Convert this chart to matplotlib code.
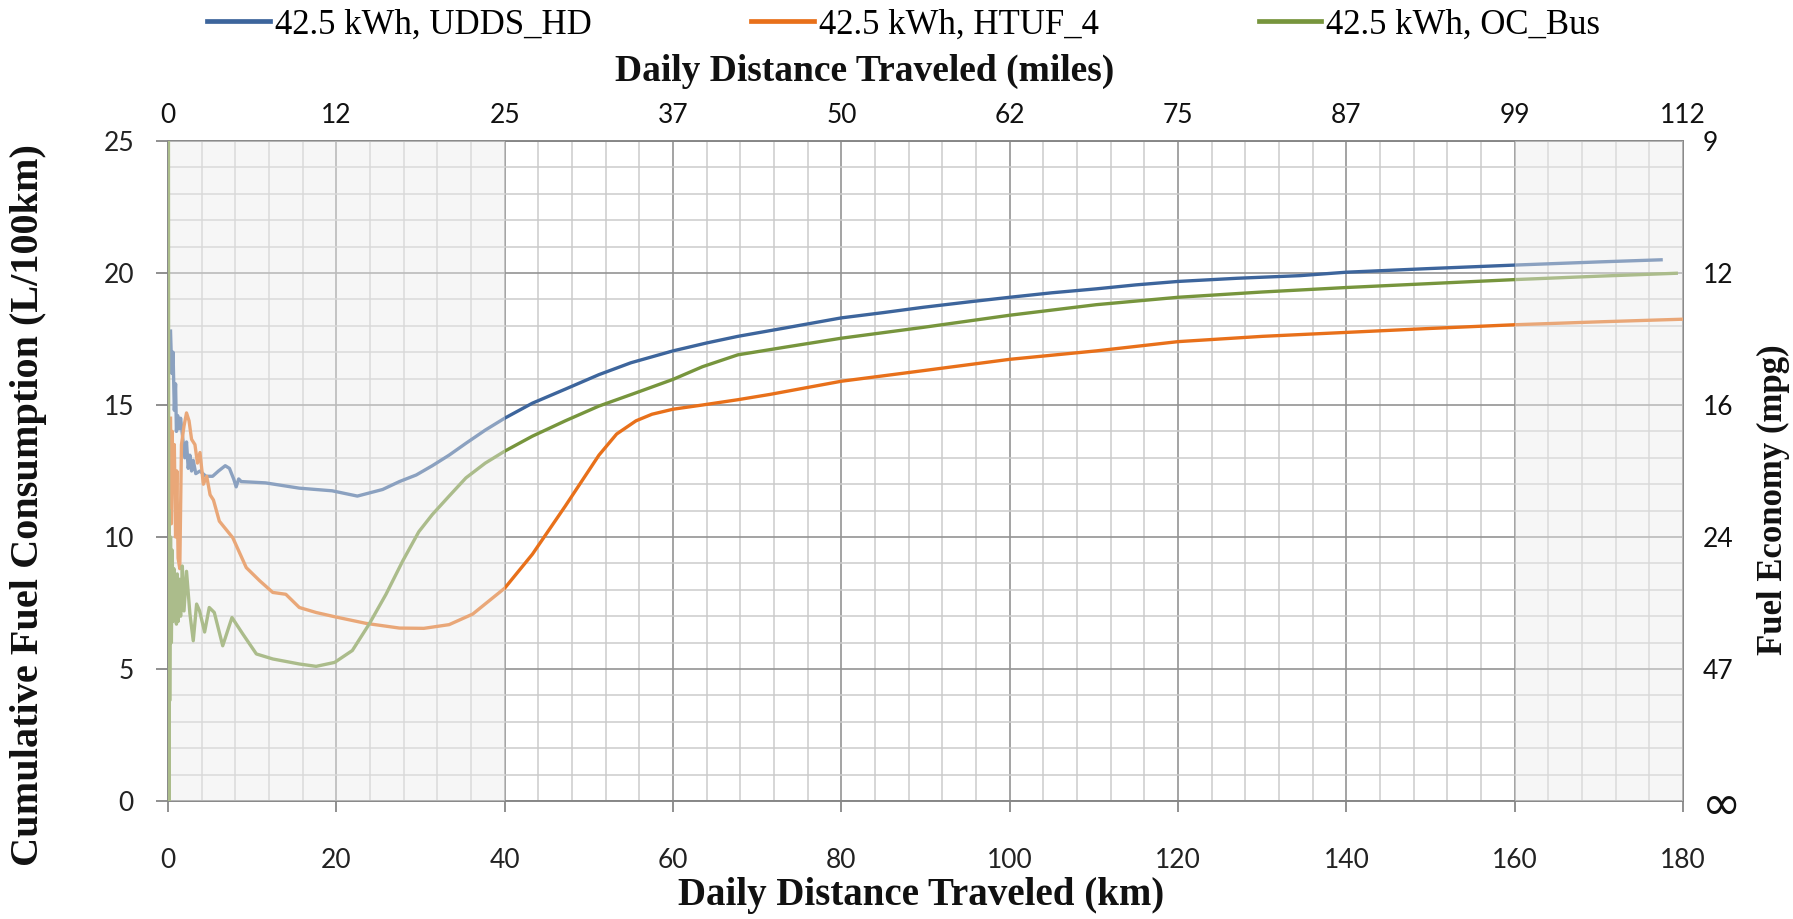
import numpy as np
import matplotlib
matplotlib.use("Agg")
import matplotlib.pyplot as plt
from matplotlib.lines import Line2D

plt.rcParams['font.family'] = ['Lato', 'DejaVu Sans']

# cumulative fuel consumption (L/100km) vs daily distance (km)
udds_km = [0.3, 0.45, 0.6, 0.75, 0.9, 1.0, 1.15, 1.3, 1.5, 1.7, 2.0, 2.2, 2.4, 2.6, 2.8,
           3.0, 3.3, 3.8, 4.5, 5.3, 6.0, 6.8, 7.3, 7.8, 8.1, 8.4, 8.7, 11.6, 15.6, 19.5,
           22.5, 25.5, 27.5, 29.5, 31.4, 33.4, 35.4, 37.7, 40, 43.3, 47.2, 51.2, 55, 60,
           64, 67.7, 73, 80, 85, 89.7, 95, 100, 105, 110.3, 115, 120, 127, 134.5, 140,
           150, 160, 170, 177.4]
udds_L = [17.8, 16.2, 17.0, 14.8, 15.8, 14.0, 14.6, 14.1, 14.5, 13.9, 13.0, 13.6, 12.6, 13.1, 12.5,
          12.9, 12.4, 12.5, 12.3, 12.3, 12.5, 12.7, 12.6, 12.2, 11.9, 12.2, 12.1, 12.05, 11.85, 11.75,
          11.55, 11.8, 12.1, 12.35, 12.7, 13.1, 13.55, 14.05, 14.5, 15.07, 15.6, 16.15, 16.6, 17.05,
          17.35, 17.6, 17.9, 18.3, 18.5, 18.7, 18.9, 19.08, 19.25, 19.4, 19.55, 19.68, 19.8, 19.9, 20.03,
          20.17, 20.3, 20.42, 20.5]

htuf_km = [0.3, 0.4, 0.5, 0.6, 0.75, 0.9, 1.05, 1.2, 1.4, 1.6, 1.9, 2.2, 2.5, 2.8, 3.2,
           3.5, 3.8, 4.2, 4.6, 5.0, 5.4, 6.1, 7.7, 9.3, 10.9, 12.45, 14.0, 15.6, 17.6, 19.8,
           23.5, 27.5, 30.4, 33.4, 36.2, 40, 43.3, 47.2, 51.2, 53.3, 55.6, 57.5, 60, 63.5, 67.7,
           71.5, 80, 89.7, 100, 110.3, 120, 130, 140, 150, 160, 170, 180]
htuf_L = [14.5, 10.5, 14.0, 12.0, 13.5, 10.0, 12.5, 9.2, 8.8, 13.5, 14.2, 14.7, 14.4, 13.7, 13.5,
          12.8, 13.2, 12.0, 12.3, 11.6, 11.4, 10.6, 9.97, 8.84, 8.34, 7.9, 7.83, 7.33, 7.14, 6.98,
          6.73, 6.55, 6.54, 6.68, 7.08, 8.06, 9.35, 11.17, 13.1, 13.9, 14.4, 14.65, 14.84, 15.0, 15.2,
          15.4, 15.9, 16.3, 16.73, 17.05, 17.4, 17.6, 17.75, 17.9, 18.04, 18.15, 18.25]

ocbus_km = [0.05, 0.1, 0.15, 0.2, 0.3, 0.4, 0.5, 0.6, 0.7, 0.8, 0.9, 1.0, 1.1, 1.2, 1.35,
            1.5, 1.7, 1.9, 2.2, 2.6, 3.0, 3.4, 3.75, 4.35, 4.9, 5.5, 6.5, 7.6, 8.9, 10.5,
            12.45, 15.6, 17.6, 19.8, 21.9, 23.9, 25.9, 27.9, 29.8, 31.4, 33.4, 35.4, 37.7, 40, 43.3,
            47.2, 51.2, 55.5, 60, 63.5, 67.7, 73.5, 80, 89.7, 100, 110.3, 120, 130, 140, 150,
            160, 170, 179.2]
ocbus_L = [27, 0.0, 11.0, 3.8, 10.0, 6.0, 9.5, 6.8, 8.8, 6.9, 8.5, 6.7, 8.6, 6.8, 8.4,
           7.0, 8.9, 7.2, 8.7, 7.1, 6.07, 7.46, 7.2, 6.4, 7.33, 7.14, 5.88, 6.95, 6.32, 5.57,
           5.38, 5.19, 5.1, 5.25, 5.7, 6.7, 7.83, 9.1, 10.2, 10.85, 11.55, 12.24, 12.8, 13.25, 13.82,
           14.4, 14.96, 15.45, 15.97, 16.45, 16.9, 17.2, 17.53, 17.94, 18.4, 18.8, 19.08, 19.28, 19.45, 19.6,
           19.75, 19.88, 19.99]

series_names = ["42.5 kWh, UDDS_HD", "42.5 kWh, HTUF_4", "42.5 kWh, OC_Bus"]
series_colors = ["#3d659c", "#e8701a", "#77953d"]

km_ticks = [0, 20, 40, 60, 80, 100, 120, 140, 160, 180]
mile_labels = ["0", "12", "25", "37", "50", "62", "75", "87", "99", "112"]
L_ticks = [0, 5, 10, 15, 20, 25]
mpg_labels = ["\u221e", "47", "24", "16", "12", "9"]

W, H = 1793, 919
fig = plt.figure(figsize=(W / 100, H / 100), dpi=100)
x0, x1, y0, y1 = 168, 1683, 141, 801
ax = fig.add_axes([x0 / W, 1 - y1 / H, (x1 - x0) / W, (y1 - y0) / H])

for xs, ys, c in zip([udds_km, htuf_km, ocbus_km], [udds_L, htuf_L, ocbus_L], series_colors):
    ax.plot(xs, ys, color=c, lw=2.4, zorder=3, solid_joinstyle='round')

# faded bands at both ends
for a, b in [(0, 40), (160, 180)]:
    ax.axvspan(a, b, color="#ececec", alpha=0.45, lw=0, zorder=4)

ax.set_xlim(0, 180)
ax.set_ylim(0, 25)
ax.set_xticks(km_ticks)
ax.set_xticks(np.arange(0, 181, 4), minor=True)
ax.set_yticks(L_ticks)
ax.set_yticks(np.arange(0, 26, 1), minor=True)
ax.set_axisbelow(True)
ax.grid(which='minor', color='#cbcbcb', lw=1.1)
ax.grid(which='major', color='#939393', lw=1.2)
for s in ax.spines.values():
    s.set_color('#878787')
    s.set_linewidth(1.4)
ax.tick_params(which='minor', length=0)
ax.tick_params(axis='x', which='major', length=8, width=1.3, color='#878787',
               pad=26, labelsize=19, labelcolor='#222222')
ax.tick_params(axis='y', which='major', length=8.5, width=1.3, color='#878787',
               pad=16, labelsize=19, labelcolor='#222222')

ax_top = ax.twiny()
ax_top.set_xlim(ax.get_xlim())
ax_top.set_xticks(km_ticks)
ax_top.set_xticklabels(mile_labels)
ax_top.tick_params(length=0, pad=9, labelsize=19, labelcolor='#111111')

ax_r = ax.twinx()
ax_r.set_ylim(ax.get_ylim())
ax_r.set_yticks(L_ticks)
ax_r.set_yticklabels(mpg_labels)
ax_r.tick_params(length=0, pad=14, labelsize=19, labelcolor='#111111')
inf_label = ax_r.get_yticklabels()[0]
inf_label.set_fontsize(34)
inf_label.set_family('DejaVu Sans')
for a2 in (ax_top, ax_r):
    for s in a2.spines.values():
        s.set_visible(False)

serif = dict(family='Liberation Serif', weight='bold', color='#111111')
fig.text(921 / W, 1 - 895 / H, "Daily Distance Traveled (km)", ha='center', va='center', size=28, **serif)
fig.text(865 / W, 1 - 71 / H, "Daily Distance Traveled (miles)", ha='center', va='center', size=27, **serif)
fig.text(29 / W, 1 - 505 / H, "Cumulative Fuel Consumption (L/100km)", ha='center', va='center',
         rotation=90, size=29, **serif)
fig.text(1773 / W, 1 - 500 / H, "Fuel Economy (mpg)", ha='center', va='center',
         rotation=90, size=25, **serif)

handles = [Line2D([], [], color=c, lw=3.4) for c in series_colors]
fig.legend(handles, series_names, loc='center', bbox_to_anchor=(0.504, 1 - 25 / H), ncol=3,
           frameon=False, prop={'family': 'Liberation Serif', 'size': 25},
           handlelength=1.8, handletextpad=0.15, columnspacing=4.6)

fig.savefig("out.png", dpi=100)
